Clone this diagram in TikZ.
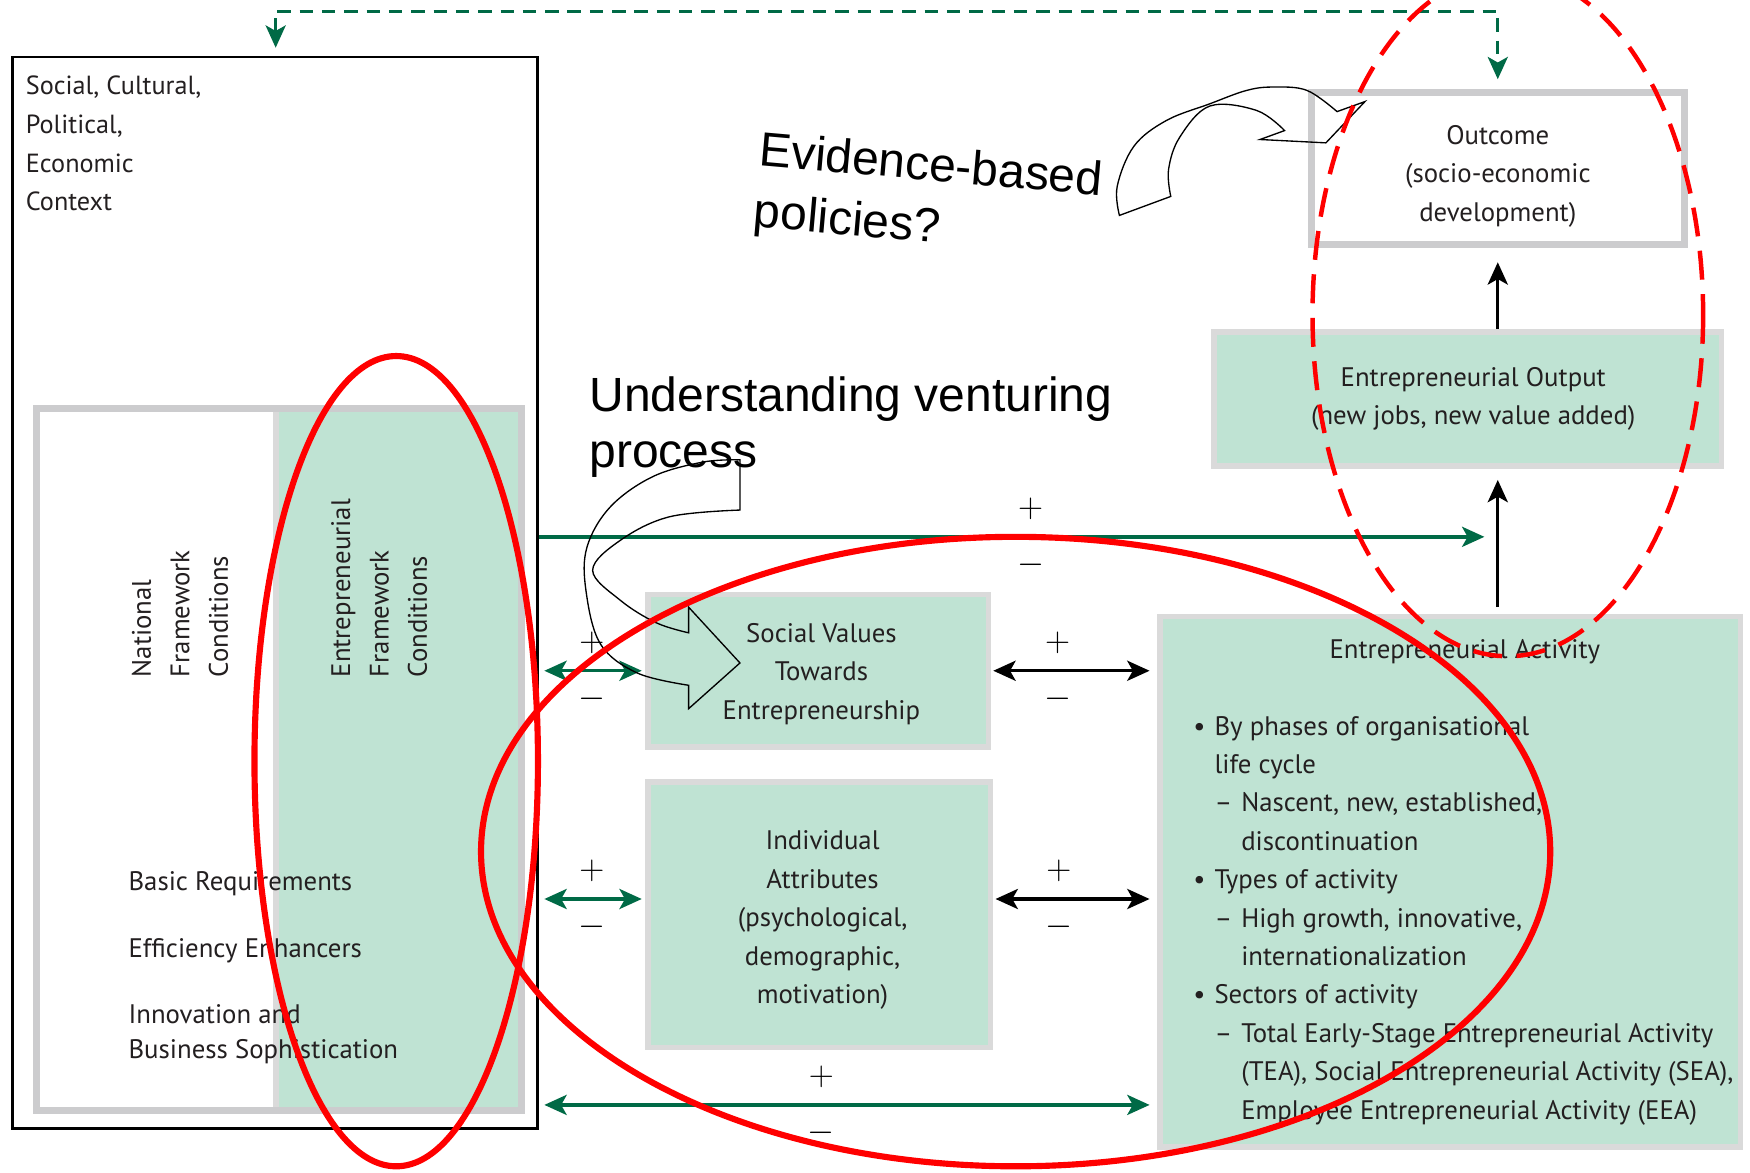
\documentclass[tikz,border=0pt]{standalone}
\usepackage[no-math]{fontspec}
\setmainfont{PT Sans}
\newfontfamily\arialfont{Liberation Sans}
\usetikzlibrary{arrows.meta,positioning,calc}

\definecolor{gemgreen}{RGB}{191,227,211}
\definecolor{gemdark}{RGB}{0,106,70}
\definecolor{framegrey}{RGB}{204,204,206}
\definecolor{boxgrey}{RGB}{218,218,218}
\definecolor{gemtext}{RGB}{35,31,32}

\newcommand\gemfont{\fontsize{24}{34.4}\selectfont}
\newcommand\signfont{\fontsize{24.88}{25}\selectfont}
\newcommand\bigarial{\arialfont\fontsize{43}{50.5}\selectfont}
\newcommand\sgnplus{\scalebox{1.25}{$+$}}
\newcommand\sgnminus{\scalebox{1.25}{$-$}}

\begin{document}
\begin{tikzpicture}[x=1pt, y=-1pt, font=\gemfont, text=gemtext,
  >={Stealth[length=20pt,width=18pt,inset=5pt]},
  greenbox/.style={draw=boxgrey, fill=gemgreen, line width=5pt, inner sep=0pt},
  whitebox/.style={draw=framegrey, fill=white, line width=6pt, inner sep=0pt},
  boxtext/.style={align=center, inner sep=0pt},
  ctxbox/.style={draw=black, line width=2.5pt, inner sep=0pt},
  greenline/.style={draw=gemdark, line width=3pt},
  blackline/.style={draw=black, line width=3pt},
  sgnup/.style={yshift=25pt, inner sep=0pt, text=black, font=\signfont},
  sgndown/.style={yshift=-25pt, inner sep=0pt, text=black, font=\signfont},
  redmark/.style={draw=red, line width=5.5pt},
  blockarrow/.style={draw=black, line width=1.2pt, line join=miter}]

\useasboundingbox (0,0) rectangle (1568,1051);
\fill[white] (0,0) rectangle (1568,1051);
\clip (0,0) rectangle (1568,1051);

% context and framework conditions
\node[ctxbox, minimum width=470pt, minimum height=960pt] (context) at (246.5,531) {};
\node[anchor=north west, align=left, inner sep=0pt, font=\fontsize{23.5}{34.7}\selectfont] (ctxtext) at (23,68)
  {Social, Cultural,\\Political,\\Economic\\Context};
\node[greenbox, minimum width=220pt, minimum height=630pt] (efc) at (357.5,680.5) {};
\node[draw=framegrey, line width=6pt, minimum width=434pt, minimum height=629pt] (nfc) at (250,680.5) {};
\node[rotate=90, anchor=north west, align=left, inner sep=0pt] (nfclabel) at (118,607)
  {National\\Framework\\Conditions};
\node[rotate=90, anchor=north west, align=left, inner sep=0pt] (efclabel) at (296.5,607)
  {Entrepreneurial\\Framework\\Conditions};
\node[anchor=north west, inner sep=0pt] (basic) at (115,781) {Basic Requirements};
\node[anchor=north west, inner sep=0pt] (effic) at (115,841) {Efficiency Enhancers};
\node[anchor=north west, align=left, inner sep=0pt, font=\fontsize{24}{31}\selectfont] (innov) at (115,900)
  {Innovation and\\Business Sophistication};

% middle boxes
\node[greenbox, minimum width=305pt, minimum height=137pt] (svalues) at (733,601) {};
\node[boxtext] (svtext) at ([xshift=3pt, yshift=-3pt]svalues.center)
  {Social Values\\Towards\\Entrepreneurship};
\node[greenbox, minimum width=307pt, minimum height=238pt] (indattr) at (734,819.5) {};
\node[boxtext] (iatext) at ([xshift=3pt, yshift=-5pt]indattr.center)
  {Individual\\Attributes\\(psychological,\\demographic,\\motivation)};

% right column
\node[greenbox, minimum width=520pt, minimum height=475pt] (activity) at (1299.5,790) {};
\node[below=23pt of activity.north, xshift=13pt, inner sep=0pt] (eatitle) {Entrepreneurial Activity};
\node[anchor=north west, align=left, inner sep=0pt] (ealist) at (1069,641.5) {%
  \makebox[19pt][l]{\textbullet}By phases of organisational\\
  \hspace*{19pt}life cycle\\
  \hspace*{19pt}\makebox[24pt][l]{--}Nascent, new, established,\\
  \hspace*{43pt}discontinuation\\
  \makebox[19pt][l]{\textbullet}Types of activity\\
  \hspace*{19pt}\makebox[24pt][l]{--}High growth, innovative,\\
  \hspace*{43pt}internationalization\\
  \makebox[19pt][l]{\textbullet}Sectors of activity\\
  \hspace*{19pt}\makebox[24pt][l]{--}Total Early-Stage Entrepreneurial Activity\\
  \hspace*{43pt}(TEA), Social Entrepreneurial Activity (SEA),\\
  \hspace*{43pt}Employee Entrepreneurial Activity (EEA)};
\node[greenbox, minimum width=455pt, minimum height=120pt] (output) at (1315,357.5) {};
\node[boxtext] (eotext) at ([xshift=5pt]output.center)
  {Entrepreneurial Output\\(new jobs, new value added)};
\node[whitebox, minimum width=334pt, minimum height=136pt] (outcome) at (1342,151) {};
\node[boxtext] (octext) at ([yshift=-7pt]outcome.center)
  {Outcome\\(socio-economic\\development)};

% annotations
\node[anchor=north west, align=left, inner sep=0pt, font=\bigarial, text=black] (understand) at (528,337)
  {Understanding venturing\\process};
\node[anchor=north west, align=left, inner sep=0pt, rotate=-5, text=black,
  font=\arialfont\fontsize{43}{55}\selectfont] (evidence) at (682,117)
  {Evidence-based\\policies?};

% connectors
\draw[greenline, dash pattern=on 12pt off 8pt, <->, line width=2.5pt]
  ([xshift=0.5pt, yshift=7pt]context.north) |- (1000,10) -| ([yshift=9pt]outcome.north);
\coordinate (fbend) at (1330,481);
\draw[greenline, ->] (context.east |- fbend) -- (fbend)
  node[pos=.52, sgnup] {\sgnplus} node[pos=.52, sgndown] {\sgnminus};
\draw[greenline, <->, shorten <=5pt, shorten >=3pt] (context.east |- svalues.west) -- (svalues.west)
  node[pos=.5, sgnup] {\sgnplus} node[pos=.5, sgndown] {\sgnminus};
\draw[greenline, <->, shorten <=5pt, shorten >=3pt] ([yshift=14pt]context.east |- indattr.west) -- ([yshift=14pt]indattr.west)
  node[pos=.5, sgnup] {\sgnplus} node[pos=.5, sgndown] {\sgnminus};
\draw[blackline, <->, shorten <=2pt, shorten >=7pt] (svalues.east) -- (activity.west |- svalues.east)
  node[pos=.4, sgnup] {\sgnplus} node[pos=.4, sgndown] {\sgnminus};
\draw[blackline, <->, shorten <=2pt, shorten >=7pt] ([yshift=14pt]indattr.east) -- ([yshift=14pt]activity.west |- indattr.east)
  node[pos=.4, sgnup] {\sgnplus} node[pos=.4, sgndown] {\sgnminus};
\draw[greenline, <->, shorten <=5pt, shorten >=7pt] ([yshift=40pt]context.east |- activity.south west) -- ([yshift=40pt]activity.south west)
  node[pos=.457, sgnup] {\sgnplus} node[pos=.457, sgndown] {\sgnminus};
\draw[blackline, ->, shorten <=6pt, shorten >=10pt] (activity.north -| outcome.south) -- (output.south -| outcome.south);
\draw[blackline, ->, shorten >=13pt] (output.north -| outcome.south) -- (outcome.south);

% curved block arrows
\draw[blockarrow] (1003,193) -- (1049,176)
  -- plot[smooth, tension=.6] coordinates {(1049,176) (1047,152) (1057,123) (1084,95) (1126,99) (1151,117)}
  -- (1129,125) -- (1188,128) -- (1223,91) -- (1198,100)
  -- plot[smooth, tension=.6] coordinates {(1198,100) (1171,81) (1141,78) (1117,81) (1084,93) (1045,108) (1016,131) (1001,167) (1003,193)}
  -- cycle;
\draw[blockarrow] (663,457) -- (663,412)
  -- plot[smooth, tension=.6] coordinates {(663,412) (630,414) (585,427) (547,454) (526,490) (525,529) (538,577) (571,603) (617,614)}
  -- (617,635) -- (663,594) -- (617,544) -- (617,567)
  -- plot[smooth, tension=.6] coordinates {(617,567) (588,558) (556,538) (531,511) (556,484) (600,463) (663,457)}
  -- cycle;

% red marks
\draw[redmark] (355,682) ellipse [x radius=127, y radius=363];
\draw[redmark] (910,763) ellipse [x radius=479, y radius=282];
\draw[redmark, line width=4pt, dash pattern=on 26pt off 13pt] (1351,282) ellipse [x radius=175, y radius=306];
\end{tikzpicture}
\end{document}
